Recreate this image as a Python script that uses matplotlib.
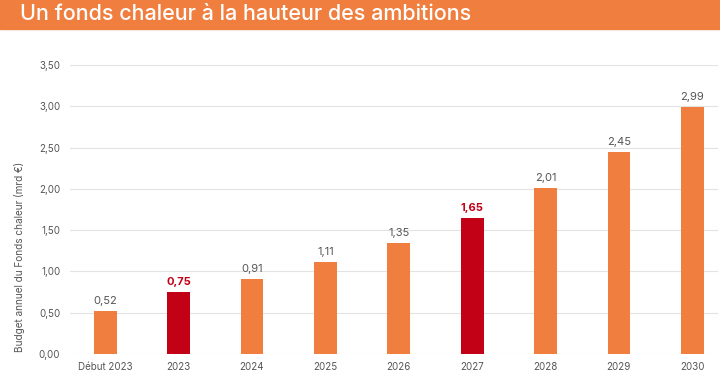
import matplotlib
matplotlib.use("Agg")
import matplotlib.pyplot as plt
from matplotlib.patches import Rectangle

categories = ["Début 2023", "2023", "2024", "2025", "2026", "2027", "2028", "2029", "2030"]
budget = [0.52, 0.75, 0.91, 1.11, 1.35, 1.65, 2.01, 2.45, 2.99]
highlight = ["2023", "2027"]
yticks = [0.0, 0.5, 1.0, 1.5, 2.0, 2.5, 3.0, 3.5]

ORANGE = "#F07F3F"
RED = "#C20016"
GREY = "#555555"

plt.rcParams["font.family"] = ["Inter", "DejaVu Sans"]

fig = plt.figure(figsize=(7.2, 3.77), dpi=100)
fig.patches.append(Rectangle((0, 1 - 29 / 377), 1, 29 / 377, transform=fig.transFigure,
                             color=ORANGE, zorder=0))
fig.text(20 / 720, 1 - 14.5 / 377, "Un fonds chaleur à la hauteur des ambitions",
         color="white", fontsize=15.5, fontweight="medium", va="center", ha="left")

ax = fig.add_axes([70 / 720, 1 - 354 / 377, 648 / 720, (354 - 65) / 377])
x = range(len(categories))
colors = [RED if c in highlight else ORANGE for c in categories]
ax.bar(x, budget, width=0.31, color=colors, zorder=3)

for i, (c, v) in enumerate(zip(categories, budget)):
    hl = c in highlight
    ax.text(i, v + 0.06, f"{v:.2f}".replace(".", ","), ha="center", va="bottom",
            fontsize=8, color=RED if hl else GREY, fontweight="bold" if hl else "normal")

ax.set_ylim(0, 3.5)
ax.set_xlim(-0.48, 8.35)
ax.set_yticks(yticks)
ax.set_yticklabels([f"{t:.2f}".replace(".", ",") for t in yticks])
ax.set_xticks(list(x))
ax.set_xticklabels(categories)
ax.grid(axis="y", color="#E3E3E3", lw=0.8, zorder=0)
for s in ax.spines.values():
    s.set_visible(False)
ax.tick_params(length=0, labelsize=7, colors=GREY, pad=6)
ax.tick_params(axis="y", pad=7)

# axis title sits a bit lower than the axes centre in the original
fig.text(20 / 720, 1 - 257 / 377, "Budget annuel du Fonds chaleur (mrd €)",
         rotation=90, fontsize=7.2, color=GREY, ha="center", va="center")

fig.savefig("out.png", dpi=100)
